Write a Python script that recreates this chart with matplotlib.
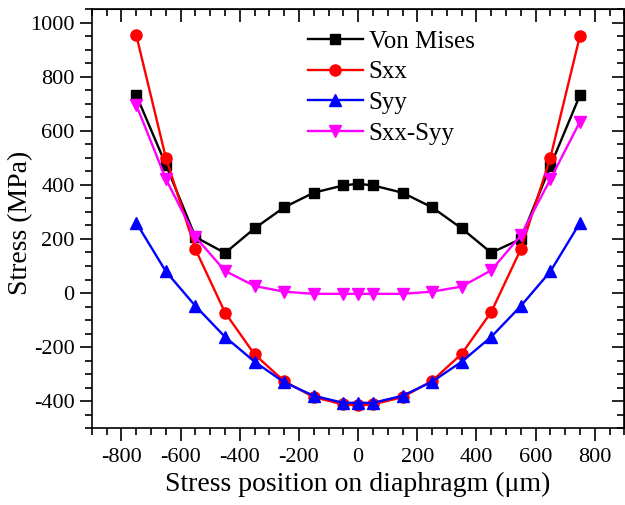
import numpy as np
import matplotlib
matplotlib.use("Agg")
import matplotlib.pyplot as plt
from matplotlib.ticker import MultipleLocator

plt.rcParams['font.family'] = ['Liberation Serif', 'DejaVu Serif']
plt.rcParams['axes.unicode_minus'] = False

# positions along the diaphragm (um)
position = [-750, -650, -550, -450, -350, -250, -150, -50, 0, 50, 150, 250, 350, 450, 550, 650, 750]

von_mises = [732, 475, 207, 148, 239, 317, 371, 398, 404, 398, 371, 317, 239, 149, 200, 470, 732]
sxx = [954, 500, 162, -72, -227, -326, -385, -412, -415, -412, -385, -325, -225, -70, 162, 501, 952]
syy = [260, 80, -48, -162, -254, -330, -380, -406, -406, -406, -380, -328, -254, -162, -48, 80, 260]
sxx_syy = [696, 422, 207, 82, 26, 5, -3, -3, -3, -3, -3, 5, 24, 84, 213, 421, 634]

fig = plt.figure(figsize=(6.25, 5.05), dpi=100)
ax = fig.add_axes([0.147, 0.152, 0.852, 0.830])

ax.plot(position, von_mises, '-s', color='black', lw=1.7, ms=7.5, label='Von Mises')
ax.plot(position, sxx, '-o', color='red', lw=1.7, ms=8, label='Sxx')
ax.plot(position, syy, '-^', color='blue', lw=1.7, ms=8, label='Syy')
ax.plot(position, sxx_syy, '-v', color='magenta', lw=1.7, ms=8, label='Sxx-Syy')

ax.set_xlim(-900, 900)
ax.set_ylim(-500, 1050)
ax.xaxis.set_minor_locator(MultipleLocator(50))
ax.yaxis.set_minor_locator(MultipleLocator(50))
ax.set_xticks(np.arange(-800, 801, 200))
ax.set_yticks(np.arange(-400, 1001, 200))

ax.tick_params(which='both', direction='out', labelsize=16, width=1.2, top=False, right=False)
ax.tick_params(which='major', length=9)
ax.tick_params(which='minor', length=5)
ax.tick_params(axis='x', pad=5)

# inward ticks on the top and right edges
ax2 = ax.secondary_xaxis('top')
ax2.xaxis.set_major_locator(MultipleLocator(200))
ax2.xaxis.set_minor_locator(MultipleLocator(50))
ax2.tick_params(which='both', direction='in', labeltop=False, width=1.2)
ax2.tick_params(which='major', length=9)
ax2.tick_params(which='minor', length=5)
ax3 = ax.secondary_yaxis('right')
ax3.yaxis.set_major_locator(MultipleLocator(200))
ax3.yaxis.set_minor_locator(MultipleLocator(50))
ax3.tick_params(which='both', direction='in', labelright=False, width=1.2)
ax3.tick_params(which='major', length=9)
ax3.tick_params(which='minor', length=5)

for s in ax.spines.values():
    s.set_linewidth(1.2)

ax.set_xlabel('Stress position on diaphragm (\u03bcm)', fontsize=20, labelpad=4)
ax.set_ylabel('Stress (MPa)', fontsize=20)
ax.yaxis.set_label_coords(-0.111, 0.49)

ax.legend(loc='upper left', bbox_to_anchor=(0.405, 0.95), frameon=False, fontsize=18,
          handlelength=2.2, handletextpad=0.25, labelspacing=0.33, borderpad=0, borderaxespad=0)

fig.savefig('out.png', dpi=100)
